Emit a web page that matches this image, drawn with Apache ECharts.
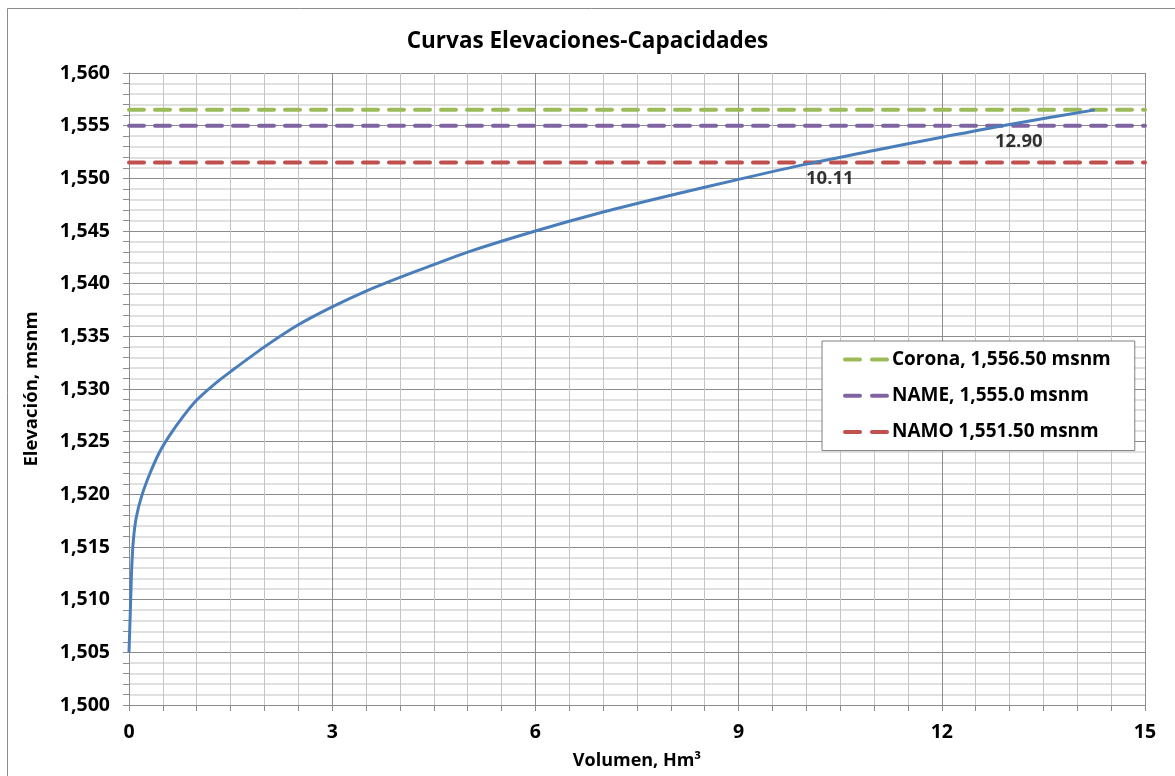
<!DOCTYPE html>
<html>
<head>
<meta charset="utf-8">
<title>Curvas Elevaciones-Capacidades</title>
<script src="https://cdn.jsdelivr.net/npm/echarts@6/dist/echarts.min.js"></script>
<style>
  html, body { margin: 0; padding: 0; background: #fff; }
  #chart { width: 1175px; height: 776px; }
</style>
</head>
<body>
<div id="chart"></div>
<script>
// curva elevaciones-capacidades (volumen Hm3 vs elevación msnm)
const volumen = [0.0, 0.01, 0.025, 0.04, 0.065, 0.11, 0.19, 0.31, 0.45, 0.6, 0.8, 1.0, 1.25, 1.5, 2.0, 2.5, 3.0, 3.5, 4.0, 4.5, 5.0, 6.0, 7.0, 8.0, 9.0, 10.0, 11.0, 12.0, 13.0, 14.26]
const elevacion = [1505, 1507, 1510, 1513, 1515.7, 1517.9, 1519.9, 1522.0, 1524.0, 1525.6, 1527.4, 1528.95, 1530.4, 1531.65, 1534, 1536.1, 1537.8, 1539.3, 1540.6, 1541.8, 1543, 1545, 1546.8, 1548.4, 1549.9, 1551.35, 1552.65, 1553.9, 1555.12, 1556.5]

// niveles de referencia
const nivelNombres = ['Corona, 1,556.50 msnm', 'NAME, 1,555.0 msnm', 'NAMO 1,551.50 msnm']
const nivelValores = [1556.5, 1555.0, 1551.5]
const nivelColores = ['#9bbb59', '#8064a2', '#c0504d']
const xRango = [0, 15]

// volúmenes en los cruces NAMO / NAME
const cruceVol = [10.11, 12.90]
const cruceElev = [1551.5, 1555.0]

const chart = echarts.init(document.getElementById('chart'))
const font = '"Open Sans", sans-serif'

const nivelSeries = nivelNombres.map((name, i) => ({
  name: name,
  type: 'line',
  symbol: 'none',
  z: 3,
  data: xRango.map(x => [x, nivelValores[i]]),
  lineStyle: { color: nivelColores[i], width: 4, type: [15, 11], cap: 'round' },
  itemStyle: { color: nivelColores[i] }
}))

const option = {
  animation: false,
  backgroundColor: '#fff',
  textStyle: { fontFamily: font },
  graphic: [{
    type: 'rect',
    shape: { x: 7.5, y: 8.5, width: 1200, height: 800 },
    style: { fill: 'none', stroke: '#8c8c8c', lineWidth: 1 },
    silent: true
  }],
  title: {
    text: 'Curvas Elevaciones-Capacidades',
    left: 'center',
    top: 25,
    textStyle: { fontFamily: font, fontSize: 22.5, fontWeight: 'bold', color: '#000' }
  },
  legend: {
    data: nivelNombres,
    orient: 'vertical',
    left: 822,
    top: 341,
    padding: [9, 24, 9, 21],
    itemGap: 17,
    itemWidth: 42,
    itemHeight: 24,
    backgroundColor: '#fff',
    borderColor: '#7f7f7f',
    borderWidth: 1,
    borderRadius: 0,
    selectedMode: false,
    itemStyle: { opacity: 0 },
    lineStyle: { width: 4, type: [15, 12], cap: 'round' },
    textStyle: { fontFamily: font, fontSize: 19, fontWeight: 'bold', color: '#000' }
  },
  grid: { left: 129, right: 30, top: 73, bottom: 71 },
  xAxis: {
    type: 'value',
    min: 0,
    max: 15,
    interval: 3,
    name: 'Volumen, Hm³',
    nameLocation: 'middle',
    nameGap: 47,
    nameTextStyle: { fontFamily: font, fontSize: 18, fontWeight: 'bold', color: '#000' },
    axisLine: { show: true, lineStyle: { color: '#8c8c8c', width: 1 } },
    axisTick: { show: true, length: 6, lineStyle: { color: '#8c8c8c' } },
    minorTick: { show: true, splitNumber: 6, length: 6, lineStyle: { color: '#8c8c8c' } },
    axisLabel: { margin: 17, fontFamily: font, fontSize: 19.5, fontWeight: 'bold', color: '#000' },
    splitLine: { show: true, lineStyle: { color: '#8c8c8c', width: 1 } },
    minorSplitLine: { show: true, lineStyle: { color: '#c4c4c4', width: 1 } }
  },
  yAxis: {
    type: 'value',
    min: 1500,
    max: 1560,
    interval: 5,
    name: 'Elevación, msnm',
    nameLocation: 'middle',
    nameGap: 88,
    nameTextStyle: { fontFamily: font, fontSize: 18.5, fontWeight: 'bold', color: '#000' },
    axisLine: { show: true, lineStyle: { color: '#8c8c8c', width: 1 } },
    axisTick: { show: true, length: 6, lineStyle: { color: '#8c8c8c' } },
    minorTick: { show: true, splitNumber: 5, length: 6, lineStyle: { color: '#8c8c8c' } },
    axisLabel: {
      margin: 19,
      fontFamily: font,
      fontSize: 19.5,
      fontWeight: 'bold',
      color: '#000',
      formatter: v => v.toLocaleString('en-US')
    },
    splitLine: { show: true, lineStyle: { color: '#8c8c8c', width: 1 } },
    minorSplitLine: { show: true, lineStyle: { color: '#d6d6d6', width: 1.5 } }
  },
  series: [
    ...nivelSeries,
    {
      name: 'Curva',
      type: 'line',
      symbol: 'none',
      smooth: 0.3,
      z: 4,
      data: volumen.map((v, i) => [v, elevacion[i]]),
      lineStyle: { color: '#4a7ebb', width: 3 }
    },
    {
      name: 'Cruces',
      type: 'scatter',
      symbolSize: 0,
      z: 5,
      data: cruceVol.map((v, i) => [v, cruceElev[i]]),
      label: {
        show: true,
        position: 'bottom',
        offset: [16, 2],
        fontFamily: font,
        fontSize: 18.5,
        fontWeight: 'bold',
        color: '#000',
        formatter: p => p.value[0].toFixed(2)
      }
    }
  ]
}

chart.setOption(option)
</script>
</body>
</html>
